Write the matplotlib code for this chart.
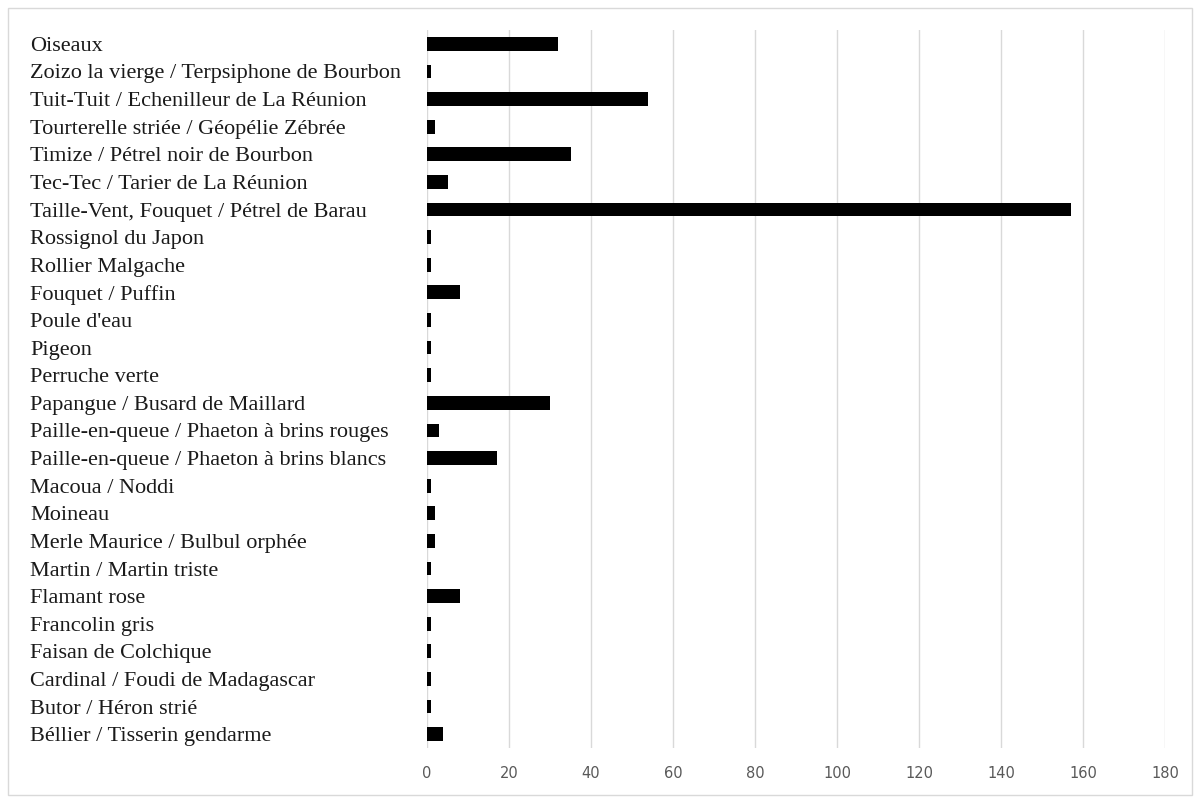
import matplotlib
matplotlib.use("Agg")
import matplotlib.pyplot as plt
from matplotlib.patches import Rectangle

categories = [
    "Oiseaux",
    "Zoizo la vierge / Terpsiphone de Bourbon",
    "Tuit-Tuit / Echenilleur de La Réunion",
    "Tourterelle striée / Géopélie Zébrée",
    "Timize / Pétrel noir de Bourbon",
    "Tec-Tec / Tarier de La Réunion",
    "Taille-Vent, Fouquet / Pétrel de Barau",
    "Rossignol du Japon",
    "Rollier Malgache",
    "Fouquet / Puffin",
    "Poule d'eau",
    "Pigeon",
    "Perruche verte",
    "Papangue / Busard de Maillard",
    "Paille-en-queue / Phaeton à brins rouges",
    "Paille-en-queue / Phaeton à brins blancs",
    "Macoua / Noddi",
    "Moineau",
    "Merle Maurice / Bulbul orphée",
    "Martin / Martin triste",
    "Flamant rose",
    "Francolin gris",
    "Faisan de Colchique",
    "Cardinal / Foudi de Madagascar",
    "Butor / Héron strié",
    "Béllier / Tisserin gendarme",
]
values = [32, 1, 54, 2, 35, 5, 157, 1, 1, 8, 1, 1, 1, 30, 3, 17,
          1, 2, 2, 1, 8, 1, 1, 1, 1, 4]
xticks = [0, 20, 40, 60, 80, 100, 120, 140, 160, 180]

fig = plt.figure(figsize=(12, 8.01), dpi=100)
ax = fig.add_axes([427/1200, 1-748/801, (1165-427)/1200, (748-30)/801])

# light frame around the whole chart
fig.patches.append(Rectangle((8/1200, 6/801), 1184/1200, 787/801, transform=fig.transFigure,
                             fill=False, edgecolor='#d9d9d9', linewidth=1))

ypos = list(range(len(categories)))
ax.barh(ypos, values, height=0.5, color='black', zorder=3)
ax.set_ylim(len(categories)-0.5, -0.5)
ax.set_xlim(0, 180)

ax.set_xticks(xticks)
ax.set_xticklabels([str(t) for t in xticks], fontsize=10.5, color='#595959', family='DejaVu Sans')
ax.tick_params(axis='x', length=0, pad=13)
ax.xaxis.grid(True, color='#d9d9d9', linewidth=1, zorder=0)

ax.set_yticks(ypos)
ax.set_yticklabels(categories, fontsize=16, family='Liberation Serif', ha='left', color='#1a1a1a')
ax.tick_params(axis='y', length=0, pad=(427-30)*72/100)

for s in ax.spines.values():
    s.set_visible(False)

fig.savefig('out.png', dpi=100)
